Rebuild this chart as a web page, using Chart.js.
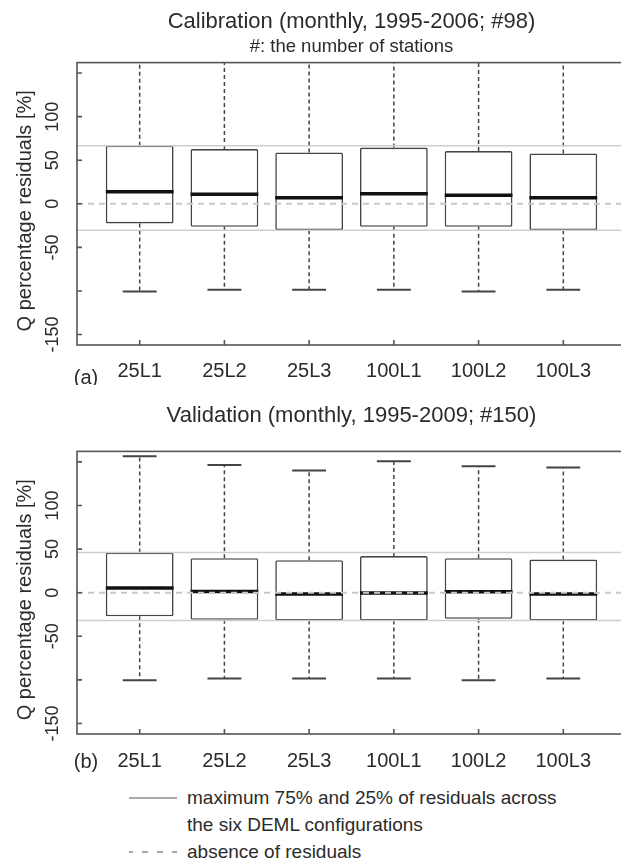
<!DOCTYPE html>
<html>
<head>
<meta charset="utf-8">
<script src="https://cdn.jsdelivr.net/npm/chart.js@4.4.1/dist/chart.umd.min.js"></script>
<style>
  html, body { margin: 0; padding: 0; background: #fff; overflow: hidden; }
  body { width: 621px; height: 863px; position: relative; font-family: 'Liberation Sans', Arial, sans-serif; color: #2b2b2b; }
  canvas { position: absolute; left: 0; }
  .leg { position: absolute; left: 187px; font-size: 19px; line-height: 22px; white-space: nowrap; }
  .swatch { position: absolute; left: 129px; }
</style>
</head>
<body>
<canvas id="calChart" width="640" height="385" style="top:0"></canvas>
<canvas id="valChart" width="640" height="396" style="top:385px"></canvas>

<svg class="swatch" style="top:790px" width="50" height="70">
  <line x1="0" y1="8" x2="48" y2="8" stroke="#a8a8a8" stroke-width="2"/>
  <line x1="0" y1="62" x2="48" y2="62" stroke="#a8a8a8" stroke-width="2" stroke-dasharray="6 9" stroke-dashoffset="2"/>
</svg>
<div class="leg" style="top:787px">maximum 75% and 25% of residuals across</div>
<div class="leg" style="top:814px">the six DEML configurations</div>
<div class="leg" style="top:841px">absence of residuals</div>

<script>
// ── Data ──────────────────────────────────────────────────────────────────────
const categories  = ['25L1', '25L2', '25L3', '100L1', '100L2', '100L3'];
const yTicks      = [-150, -100, -50, 0, 50, 100, 150];
const yTickLabels = [100, 50, 0, -50, -150];
const yTitle      = 'Q percentage residuals [%]';

// calibration (monthly, 1995-2006; #98)
const calQ1  = [-22.5, -26.4, -30.3, -26.4, -26.4, -30.3];
const calMed = [13.8, 11.0, 6.9, 11.5, 9.9, 6.9];
const calQ3  = [66.7, 62.8, 59.0, 64.5, 60.5, 57.8];
const calLo  = [-100.5, -98.5, -98.5, -98.5, -100.5, -98.5];
const calHi  = [190, 185, 180, 190, 185, 180];   // above the plotted range

// validation (monthly, 1995-2009; #150)
const valQ1  = [-27.0, -31.0, -32.0, -32.0, -30.0, -32.0];
const valMed = [5.4, 1.5, -1.5, -0.4, 1.2, -1.5];
const valQ3  = [46.0, 39.6, 37.3, 42.0, 39.6, 38.0];
const valLo  = [-100.4, -98.5, -98.5, -98.5, -100.4, -98.5];
const valHi  = [156.5, 146.5, 140.0, 150.8, 145.0, 143.5];

// ── Helpers ───────────────────────────────────────────────────────────────────
const FONT = '"Liberation Sans", Arial, sans-serif';
const INK = '#2b2b2b';
const X_MIN = 0.26, X_MAX = 6.74, Y_MIN = -162, Y_MAX = 162;

function boxDatasets(q1, med, q3, lo, hi) {
  const whiskers = [], caps = [], medians = [], boxes = [];
  categories.forEach((c, i) => {
    const x = i + 1;
    whiskers.push({x, y: q3[i]}, {x, y: hi[i]}, {x, y: null});
    whiskers.push({x, y: q1[i]}, {x, y: lo[i]}, {x, y: null});
    caps.push({x: x - 0.2, y: hi[i]}, {x: x + 0.2, y: hi[i]}, {x, y: null});
    caps.push({x: x - 0.2, y: lo[i]}, {x: x + 0.2, y: lo[i]}, {x, y: null});
    medians.push({x: x - 0.4, y: med[i]}, {x: x + 0.4, y: med[i]}, {x, y: null});
    boxes.push({x, y: [q1[i], q3[i]]});
  });
  const upper = Math.max(...q3), lower = Math.min(...q1);
  const line = { type: 'line', pointRadius: 0, borderCapStyle: 'butt', spanGaps: false };
  return [
    Object.assign({}, line, { data: [{x: X_MIN, y: 0}, {x: X_MAX, y: 0}],
      borderColor: '#c8c8c8', borderWidth: 2, borderDash: [6, 5], order: 0 }),
    Object.assign({}, line, { data: [{x: X_MIN, y: upper}, {x: X_MAX, y: upper}, {x: X_MAX, y: null},
                                     {x: X_MIN, y: lower}, {x: X_MAX, y: lower}],
      borderColor: '#cfcfcf', borderWidth: 1.5, order: 0 }),
    Object.assign({}, line, { data: medians, borderColor: '#111', borderWidth: 3.5, order: 1 }),
    { type: 'bar', data: boxes, backgroundColor: '#fff', borderColor: '#444', borderWidth: 1.6,
      borderSkipped: false, borderRadius: 1.5, barPercentage: 0.8, categoryPercentage: 1, order: 2 },
    Object.assign({}, line, { data: caps, borderColor: '#444', borderWidth: 2, order: 3 }),
    Object.assign({}, line, { data: whiskers, borderColor: '#444', borderWidth: 1.5, borderDash: [4, 3], order: 3 })
  ];
}

// frame, inner ticks, rotated y labels, axis title, panel letter
const panelDecor = {
  id: 'panelDecor',
  afterDraw(chart, args, opts) {
    const {ctx, chartArea: a, scales: {x, y}} = chart;
    ctx.save();
    ctx.strokeStyle = '#555';
    ctx.lineWidth = 1.6;
    ctx.strokeRect(a.left, a.top, a.right - a.left, a.bottom - a.top);
    ctx.beginPath();
    yTicks.forEach(v => { const py = y.getPixelForValue(v); ctx.moveTo(a.left, py); ctx.lineTo(a.left + 5, py); });
    categories.forEach((c, i) => { const px = x.getPixelForValue(i + 1); ctx.moveTo(px, a.bottom); ctx.lineTo(px, a.bottom - 5); });
    ctx.stroke();

    ctx.fillStyle = INK;
    ctx.textAlign = 'center';
    ctx.textBaseline = 'middle';
    ctx.font = '18px ' + FONT;
    yTickLabels.forEach(v => {
      ctx.save();
      ctx.translate(53, y.getPixelForValue(v));
      ctx.rotate(-Math.PI / 2);
      ctx.fillText(String(v), 0, 0);
      ctx.restore();
    });
    ctx.font = '20px ' + FONT;
    ctx.save();
    ctx.translate(25, (a.top + a.bottom) / 2 + 7);
    ctx.rotate(-Math.PI / 2);
    ctx.fillText(yTitle, 0, 0);
    ctx.restore();

    ctx.textBaseline = 'alphabetic';
    ctx.fillText(opts.letter, 86, a.bottom + opts.letterOffset);
    ctx.restore();
  }
};

function makeChart(id, title, subtitle, letter, datasets, lay) {
  return new Chart(document.getElementById(id), {
    data: { datasets },
    options: {
      responsive: false,
      animation: false,
      events: [],
      layout: { padding: { left: 0, right: 14, top: 0, bottom: lay.bottom } },
      scales: {
        x: {
          type: 'linear', min: X_MIN, max: X_MAX, offset: false,
          afterBuildTicks: s => { s.ticks = categories.map((c, i) => ({ value: i + 1 })); },
          afterFit: s => { s.height = 40; },
          ticks: { callback: v => categories[v - 1], color: INK, font: { size: 20, family: FONT },
                   padding: lay.tickPad, maxRotation: 0 },
          grid: { display: false, drawTicks: false },
          border: { display: false }
        },
        y: {
          min: Y_MIN, max: Y_MAX,
          afterFit: s => { s.width = 77; },
          ticks: { display: false },
          grid: { display: false, drawTicks: false },
          border: { display: false }
        }
      },
      plugins: {
        legend: { display: false },
        tooltip: { enabled: false },
        title: { display: true, text: title, fullSize: false, color: INK,
                 font: { size: 22, family: FONT, weight: 'normal' }, padding: lay.title },
        subtitle: { display: !!subtitle, text: subtitle, fullSize: false, color: INK,
                    font: { size: 18.5, family: FONT, weight: 'normal' }, padding: lay.sub },
        panelDecor: { letter, letterOffset: lay.letter }
      }
    },
    plugins: [panelDecor]
  });
}

makeChart('calChart', 'Calibration (monthly, 1995-2006; #98)', '#: the number of stations', '(a)',
  boxDatasets(calQ1, calMed, calQ3, calLo, calHi),
  { title: { top: 9, bottom: 0 }, sub: { top: 0, bottom: 5 }, bottom: 0, tickPad: 14, letter: 39 });

makeChart('valChart', 'Validation (monthly, 1995-2009; #150)', '', '(b)',
  boxDatasets(valQ1, valMed, valQ3, valLo, valHi),
  { title: { top: 18, bottom: 22 }, sub: { top: 0, bottom: 0 }, bottom: 7, tickPad: 15, letter: 34 });
</script>
</body>
</html>
